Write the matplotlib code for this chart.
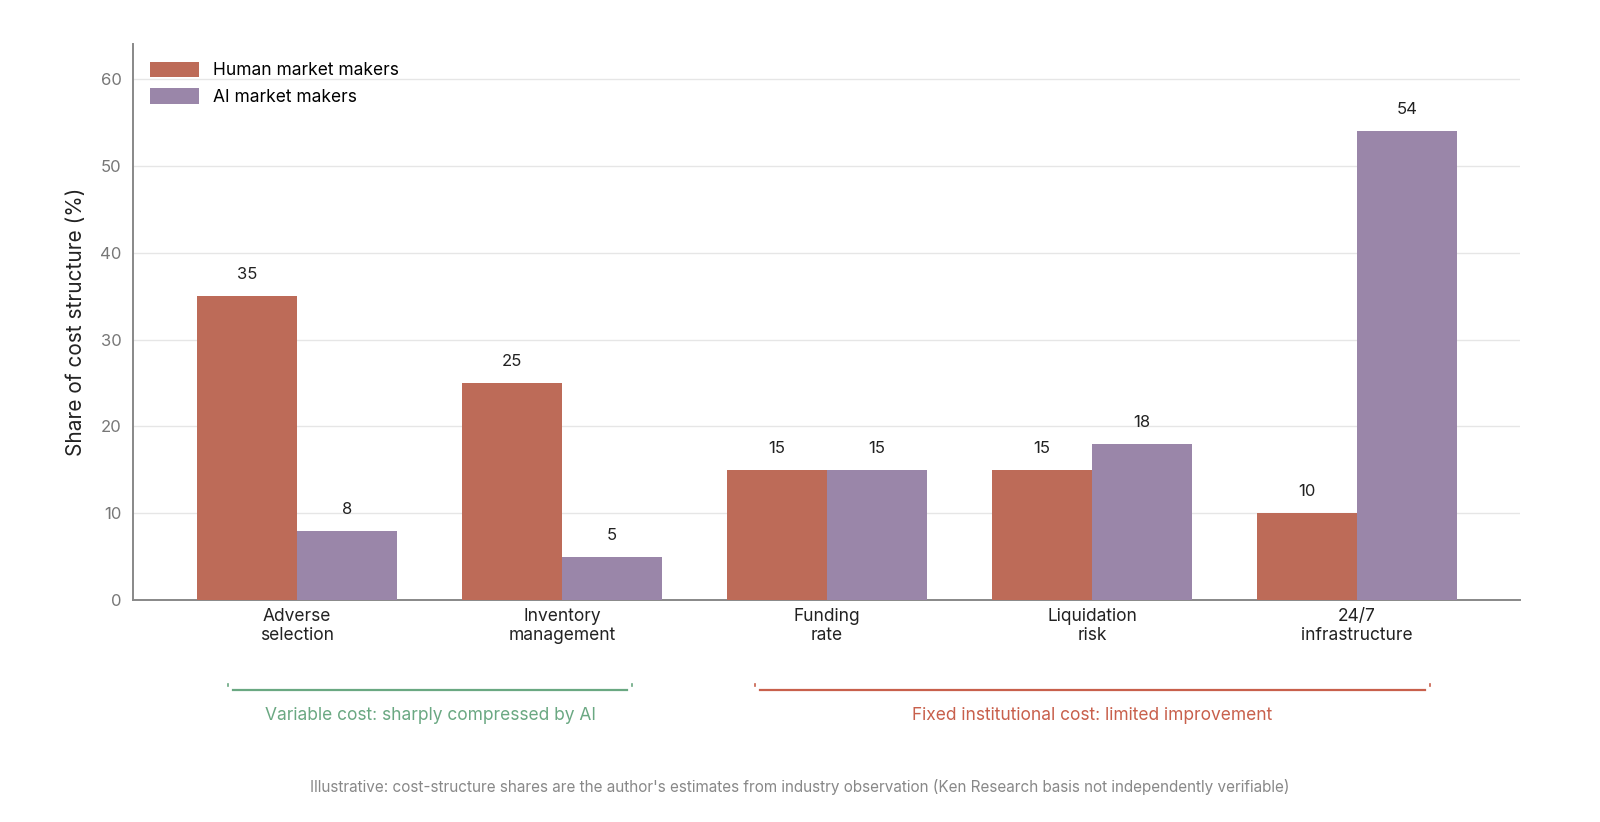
import numpy as np
import matplotlib.pyplot as plt
import matplotlib.transforms as mtransforms

categories = ["Adverse\nselection", "Inventory\nmanagement", "Funding\nrate", "Liquidation\nrisk", "24/7\ninfrastructure"]
human = [35, 25, 15, 15, 10]
ai = [8, 5, 15, 18, 54]

c_human = "#bd6b58"
c_ai = "#9a86a9"
c_green = "#6aa882"
c_red = "#c8604c"

plt.rcParams['font.family'] = ['Inter', 'DejaVu Sans']
fig = plt.figure(figsize=(16, 8.22), dpi=100)
ax = fig.add_axes([0.083, 0.27, 0.867, 0.676])

x = np.arange(len(categories))
w = 0.377
bh = ax.bar(x - w / 2, human, w, color=c_human, label="Human market makers", zorder=3)
ba = ax.bar(x + w / 2, ai, w, color=c_ai, label="AI market makers", zorder=3)
for bars, vals in ((bh, human), (ba, ai)):
    for b, v in zip(bars, vals):
        ax.text(b.get_x() + b.get_width() / 2, v + 1.6, str(v), ha="center", va="bottom",
                fontsize=12, color="#222222")

ax.set_xlim(-0.62, 4.615)
ax.set_ylim(0, 64)
ax.set_yticks(range(0, 61, 10))
ax.set_xticks(x)
ax.set_xticklabels(categories, fontsize=12.5, color="#222222", linespacing=1.1)
ax.tick_params(axis="y", labelsize=12, colors="#777777", length=0, pad=8)
ax.tick_params(axis="x", length=0, pad=6)
ax.set_ylabel("Share of cost structure (%)", fontsize=15, color="#222222", labelpad=10)
ax.grid(axis="y", color="#e6e6e6", linewidth=1, zorder=0)
for s in ("top", "right"):
    ax.spines[s].set_visible(False)
for s in ("left", "bottom"):
    ax.spines[s].set_color("#888888")
    ax.spines[s].set_linewidth(1.4)

ax.legend(loc="upper left", bbox_to_anchor=(0.0, 1.0), frameon=False, fontsize=12.5,
          handlelength=2.8, handleheight=1.0, borderaxespad=0.6)

# group brackets below the axis
trans = mtransforms.blended_transform_factory(ax.transData, ax.transAxes)
groups = [(-0.26, 1.264, c_green, "Variable cost: sharply compressed by AI"),
          (1.728, 4.275, c_red, "Fixed institutional cost: limited improvement")]
for x0, x1, col, label in groups:
    ax.plot([x0 + 0.02, x1 - 0.02], [-0.162, -0.162], color=col, lw=1.6,
            transform=trans, clip_on=False)
    for xe in (x0, x1):
        ax.plot([xe, xe], [-0.155, -0.151], color=col, lw=1.2, transform=trans, clip_on=False)
    ax.text((x0 + x1) / 2, -0.208, label, color=col, fontsize=12.5, ha="center", va="center",
            transform=trans)

fig.text(0.5, 1 - 787 / 822, "Illustrative: cost-structure shares are the author's estimates from industry "
         "observation (Ken Research basis not independently verifiable)",
         ha="center", va="center", fontsize=11, color="#888888")

fig.savefig("out.png", dpi=100)
